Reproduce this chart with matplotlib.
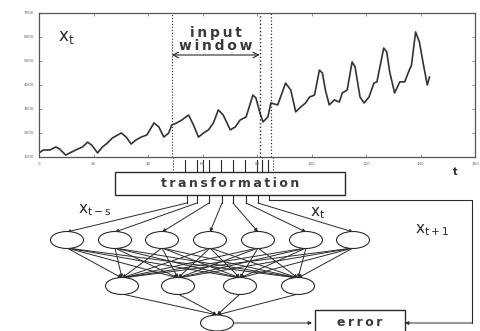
import numpy as np
import matplotlib.pyplot as plt
from matplotlib.patches import Ellipse, Rectangle

# time series
t_vals = [0, 1.5, 4.0, 6.2, 7.6, 9.8, 12.0, 14.2, 16.0, 17.8, 19.3, 21.5, 23.3, 25.1, 26.9,
          30.2, 32.0, 33.8, 35.6, 37.5, 39.6, 42.2, 44.0, 45.8, 47.6, 48.7, 50.5, 52.4, 54.9,
          56.7, 58.5, 60.4, 62.2, 64.0, 65.8, 67.6, 70.2, 72.0, 73.8, 76.0, 78.5, 79.6, 81.1,
          82.2, 84.0, 85.1, 87.6, 90.5, 92.4, 94.2, 96.0, 97.8, 99.3, 101.1, 102.9, 104.0,
          105.1, 106.5, 108.4, 110.2, 111.3, 113.1, 114.9, 116.0, 117.8, 119.3, 121.1, 122.9,
          124.0, 126.5, 127.6, 128.7, 130.5, 132.4, 134.2, 135.6, 136.7, 138.2, 139.6, 141.1,
          142.5, 143.3]
x_vals = [1170, 1290, 1290, 1420, 1330, 1080, 1210, 1330, 1420, 1620, 1500, 1170, 1420, 1580,
          1790, 2000, 1830, 1540, 1710, 1830, 1920, 2420, 2250, 1830, 2000, 2330, 2420, 2540,
          2750, 2330, 1830, 2000, 2130, 2420, 2960, 2750, 2130, 2250, 2540, 2670, 3580, 3460,
          2830, 2460, 2670, 3250, 3170, 4080, 3790, 2880, 3080, 3250, 3500, 3580, 4620, 4500,
          3790, 3170, 3380, 3290, 3670, 3790, 4960, 4750, 3500, 3250, 3500, 4080, 4130, 5540,
          5380, 4540, 3670, 4130, 4130, 4540, 4830, 6210, 5790, 4830, 4000, 4330]
x_ticks = [0, 20, 40, 60, 80, 100, 120, 140, 160]
y_ticks = [1000, 2000, 3000, 4000, 5000, 6000, 7000]
window = [48.7, 81.0, 85.0]

# network layout (pixels of the 481x331 figure)
input_nodes = [67, 115, 162, 210, 258, 306, 353]
hidden_nodes = [122, 178, 240, 298]
output_node = 217
feed_x = [187, 197, 209, 222, 233, 246, 258]

W, H = 481, 331
fig = plt.figure(figsize=(W / 100, H / 100), dpi=100)
ink = '#2a2a2a'


def spaced(s):
    # wide letter spacing like the scanned original
    return '\u2009'.join(s)


lbl = dict(fontsize=9, fontweight='bold', color='#3a3a3a')

ax = fig.add_axes([39 / W, 1 - 157 / H, 436 / W, 144 / H])
ax.plot(t_vals, x_vals, color='#333333', lw=1.2)
ax.set_xlim(0, 160)
ax.set_ylim(1000, 7000)
ax.set_xticks(x_ticks)
ax.set_yticks(y_ticks)
ax.tick_params(labelsize=3, length=2, width=0.5, colors='#666666', direction='in',
               top=True, right=True)
for s in ax.spines.values():
    s.set_linewidth(0.9)
    s.set_color('#555555')
ax.axvline(window[0], color=ink, lw=0.8, ls=':')
ax.axvline(window[1], color=ink, lw=1.0, ls=':')
ax.axvline(window[2], color=ink, lw=0.9, ls=':')
ax.annotate('', xy=(window[0], 5250), xytext=(window[1], 5250),
            arrowprops=dict(arrowstyle='<->', color=ink, lw=0.8, shrinkA=0, shrinkB=0))
ax.text((window[0] + window[1]) / 2, 5330, spaced('input') + '\n' + spaced('window'),
        ha='center', va='bottom', linespacing=0.95, fontsize=10, fontweight='bold',
        color='#3a3a3a')
ax.text(7, 5850, r'x$_\mathregular{t}$', fontsize=12, color=ink)

# overlay in pixel coordinates for the network diagram
ov = fig.add_axes([0, 0, 1, 1], zorder=-1)
ov.set_xlim(0, W)
ov.set_ylim(H, 0)
ov.axis('off')

arr = dict(arrowstyle='-|>', color=ink, lw=0.7, mutation_scale=5, shrinkA=0, shrinkB=0)

# window dotted lines continue below axis
for px in [173, 262, 273]:
    ov.plot([px, px], [157, 172], color=ink, lw=0.8, ls=':')
# input lines from series to transformation box
for px in [185, 197, 203, 209, 221, 233, 245, 257, 262, 268]:
    ov.plot([px, px], [160, 172], color=ink, lw=0.8)

ov.add_patch(Rectangle((115, 172), 230, 23, fill=False, ec=ink, lw=1.0))
ov.text(230, 183.5, spaced('transformation'), ha='center', va='center', **lbl)
ov.text(455, 172, 't', ha='center', va='center', fontsize=7, fontweight='bold', color=ink)

# lines from box down to inputs
for fx, nx_ in zip(feed_x, input_nodes):
    ov.plot([fx, fx], [195, 203], color=ink, lw=0.8)
    ov.annotate('', xy=(nx_, 232), xytext=(fx, 203), arrowprops=arr)

# feedback x_{t+1}
ov.plot([269, 269, 472, 472], [195, 200, 200, 323], color=ink, lw=0.8)
ov.annotate('', xy=(405, 323), xytext=(472, 323), arrowprops=arr)

# full connections
for ix in input_nodes:
    for hx in hidden_nodes:
        ov.annotate('', xy=(hx, 278), xytext=(ix, 248), arrowprops=arr)
for hx in hidden_nodes:
    ov.annotate('', xy=(output_node, 315), xytext=(hx, 294), arrowprops=arr)

for ix in input_nodes:
    ov.add_patch(Ellipse((ix, 240), 33, 17, fc='white', ec=ink, lw=0.8, zorder=3))
for hx in hidden_nodes:
    ov.add_patch(Ellipse((hx, 286), 33, 17, fc='white', ec=ink, lw=0.8, zorder=3))
ov.add_patch(Ellipse((output_node, 323), 33, 16, fc='white', ec=ink, lw=0.8, zorder=3))

ov.annotate('', xy=(312, 323), xytext=(234, 323), arrowprops=arr)
ov.add_patch(Rectangle((315, 310), 90, 25, fill=False, ec=ink, lw=1.0))
ov.text(360, 323, spaced('error'), ha='center', va='center', **lbl)

ov.text(78, 210, r'x$_\mathregular{t-s}$', ha='left', va='center', fontsize=11, color=ink)
ov.text(310, 213, r'x$_\mathregular{t}$', ha='left', va='center', fontsize=11, color=ink)
ov.text(415, 230, r'x$_\mathregular{t+1}$', ha='left', va='center', fontsize=11, color=ink)

fig.savefig('out.png', dpi=100)
